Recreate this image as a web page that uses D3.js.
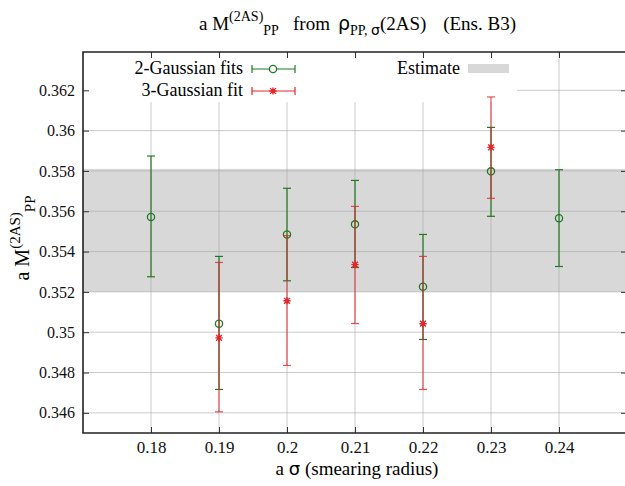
<!DOCTYPE html>
<html>
<head>
<meta charset="utf-8">
<script src="https://cdn.jsdelivr.net/npm/d3@7"></script>
<style>
  body { margin: 0; background: #fff; }
  svg text { font-family: "Liberation Serif", "Times New Roman", serif; }
</style>
</head>
<body>
<svg id="chart"></svg>
<script>
// smearing radii
var sigma2 = [0.18, 0.19, 0.20, 0.21, 0.22, 0.23, 0.24]
var fit2 = [0.35572, 0.35042, 0.35485, 0.35535, 0.35226, 0.35798, 0.35565]
var fit2Lo = [0.35275, 0.34716, 0.35255, 0.35321, 0.34964, 0.35575, 0.35326]
var fit2Hi = [0.35874, 0.35376, 0.35714, 0.35753, 0.35485, 0.36016, 0.35806]

var sigma3 = [0.19, 0.20, 0.21, 0.22, 0.23]
var fit3 = [0.34972, 0.35156, 0.35335, 0.35042, 0.35917]
var fit3Lo = [0.34605, 0.34835, 0.35043, 0.34716, 0.35664]
var fit3Hi = [0.35346, 0.35479, 0.35624, 0.35376, 0.36167]

var estimate = [0.3520, 0.3581]

var xTicks = [0.18, 0.19, 0.20, 0.21, 0.22, 0.23, 0.24]
var yTicks = [0.346, 0.348, 0.35, 0.352, 0.354, 0.356, 0.358, 0.36, 0.362]

var dimensions = ({
    width: 625,
    height: 486,
    margin: { top: 52, bottom: 53, left: 83, right: -2 }
})
var green = "#1e7a1e", red = "#e3262b"
var serif = "Liberation Serif", greek = "DejaVu Sans"

var svg = d3.select("#chart")
            .attr("width", dimensions.width)
            .attr("height", dimensions.height)

var x0 = dimensions.margin.left, x1 = dimensions.width - dimensions.margin.right
var y0 = dimensions.height - dimensions.margin.bottom, y1 = dimensions.margin.top

var xScale = d3.scaleLinear().domain([0.17, 0.25]).range([x0, x1])
var yScale = d3.scaleLinear().domain([0.345, 0.3639]).range([y0, y1])

// estimate band
svg.append("rect")
   .attr("x", x0).attr("width", x1 - x0)
   .attr("y", yScale(estimate[1]))
   .attr("height", yScale(estimate[0]) - yScale(estimate[1]))
   .attr("fill", "#d8d8d8")

// grid
svg.append("g").selectAll("line").data(yTicks).enter().append("line")
   .attr("x1", x0).attr("x2", x1)
   .attr("y1", d => yScale(d)).attr("y2", d => yScale(d))
   .attr("stroke", "#a8a8a8").attr("stroke-opacity", 0.6)
svg.append("g").selectAll("line").data(xTicks).enter().append("line")
   .attr("x1", d => xScale(d)).attr("x2", d => xScale(d))
   .attr("y1", y0).attr("y2", y1)
   .attr("stroke", "#a8a8a8").attr("stroke-opacity", 0.6)

// opaque key box
svg.append("rect").attr("x", x0 + 1).attr("y", y1 + 1).attr("width", 433).attr("height", 49).attr("fill", "#fff")

function errorBars(g, xs, ys, lo, hi, color, op) {
    var sel = g.selectAll("g.bar").data(xs).enter().append("g")
               .attr("stroke", color).attr("stroke-opacity", op).attr("stroke-width", 1.2)
    sel.append("line").attr("x1", d => xScale(d)).attr("x2", d => xScale(d))
       .attr("y1", (d, i) => yScale(lo[i])).attr("y2", (d, i) => yScale(hi[i]))
    sel.append("line").attr("x1", d => xScale(d) - 4).attr("x2", d => xScale(d) + 4)
       .attr("y1", (d, i) => yScale(lo[i])).attr("y2", (d, i) => yScale(lo[i]))
    sel.append("line").attr("x1", d => xScale(d) - 4).attr("x2", d => xScale(d) + 4)
       .attr("y1", (d, i) => yScale(hi[i])).attr("y2", (d, i) => yScale(hi[i]))
}
function asterisk(cx, cy, r) {
    var a = r * 0.8
    return "M" + (cx - r) + "," + cy + "h" + (2 * r) +
           "M" + cx + "," + (cy - r) + "v" + (2 * r) +
           "M" + (cx - a) + "," + (cy - a) + "l" + (2 * a) + "," + (2 * a) +
           "M" + (cx - a) + "," + (cy + a) + "l" + (2 * a) + "," + (-2 * a)
}

var g2 = svg.append("g")
errorBars(g2, sigma2, fit2, fit2Lo, fit2Hi, green, 1)
g2.selectAll("circle").data(sigma2).enter().append("circle")
  .attr("cx", d => xScale(d)).attr("cy", (d, i) => yScale(fit2[i]))
  .attr("r", 3.6).attr("fill", "none").attr("stroke", green).attr("stroke-width", 1.3)

var g3 = svg.append("g")
errorBars(g3, sigma3, fit3, fit3Lo, fit3Hi, red, 0.8)
g3.selectAll("path").data(sigma3).enter().append("path")
  .attr("d", (d, i) => asterisk(xScale(d), yScale(fit3[i]), 3.6))
  .attr("stroke", red).attr("stroke-width", 1.4).attr("fill", "none")

// key
var key = svg.append("g")
function keyText(x, y, s) {
    key.append("text").attr("x", x).attr("y", y).attr("text-anchor", "end")
       .attr("font-family", serif).attr("font-size", 18).text(s)
}
keyText(243, 74, "2-Gaussian fits")
keyText(243, 96, "3-Gaussian fit")
keyText(460, 74, "Estimate")
var ks = [[69, green], [91, red]]
ks.forEach(function (k) {
    var kg = key.append("g").attr("stroke", k[1]).attr("stroke-width", 1.2)
    kg.append("line").attr("x1", 252).attr("x2", 295).attr("y1", k[0]).attr("y2", k[0])
    kg.append("line").attr("x1", 252).attr("x2", 252).attr("y1", k[0] - 4).attr("y2", k[0] + 4)
    kg.append("line").attr("x1", 295).attr("x2", 295).attr("y1", k[0] - 4).attr("y2", k[0] + 4)
})
key.append("circle").attr("cx", 273).attr("cy", 69).attr("r", 3.6).attr("fill", "#fff").attr("stroke", green).attr("stroke-width", 1.3)
key.append("path").attr("d", asterisk(273, 91, 3.6)).attr("stroke", red).attr("stroke-width", 1.4)
key.append("rect").attr("x", 468).attr("y", 64).attr("width", 41).attr("height", 9).attr("fill", "#d8d8d8")

// axes, ticks inward, mirrored
var fmt = d3.format(".3~f")
var yAxis = d3.axisLeft(yScale).tickValues(yTicks).tickFormat(fmt).tickSize(-6).tickPadding(8)
svg.append("g").attr("transform", "translate(" + x0 + ",0)").call(yAxis)
   .attr("font-family", serif).attr("font-size", 16)
   .call(g => g.select(".domain").remove())
svg.append("g").attr("transform", "translate(" + x1 + ",0)")
   .call(d3.axisRight(yScale).tickValues(yTicks).tickSize(-6).tickFormat(""))
   .call(g => g.select(".domain").remove())

var xAxis = d3.axisBottom(xScale).tickValues(xTicks).tickFormat(fmt).tickSize(-6).tickPadding(8)
svg.append("g").attr("transform", "translate(0," + y0 + ")").call(xAxis)
   .attr("font-family", serif).attr("font-size", 17)
   .call(g => g.select(".domain").remove())
svg.append("g").attr("transform", "translate(0," + y1 + ")")
   .call(d3.axisTop(xScale).tickValues(xTicks).tickSize(-6).tickFormat(""))
   .call(g => g.select(".domain").remove())
svg.selectAll(".tick line").attr("stroke", "#333")
svg.selectAll(".tick text").attr("fill", "#111")

svg.append("path")
   .attr("d", "M" + x1 + "," + y1 + "H" + x0 + "V" + y0 + "H" + x1)
   .attr("fill", "none").attr("stroke", "#222").attr("stroke-width", 1.6)

// title, in chunks like the gnuplot enhanced text
var ty = 30
var tA = svg.append("text").attr("x", 199).attr("y", ty).attr("font-size", 19)
tA.append("tspan").text("a M")
tA.append("tspan").attr("dy", -9).attr("font-size", 14).text("(2AS)")
tA.append("tspan").attr("dy", 14).attr("font-size", 14).text("PP")
svg.append("text").attr("x", 293).attr("y", ty).attr("font-size", 19).text("from")
var tC = svg.append("text").attr("x", 338).attr("y", ty).attr("font-size", 19)
tC.append("tspan").attr("font-family", greek).text("ρ")
tC.append("tspan").attr("dy", 5).attr("font-size", 14).text("PP, ")
tC.append("tspan").attr("font-size", 14).attr("font-family", greek).text("σ")
tC.append("tspan").attr("dy", -5).text("(2AS)")
svg.append("text").attr("x", 516).attr("y", ty).attr("text-anchor", "end").attr("font-size", 19).text("(Ens. B3)")

// axis labels
var xl = svg.append("text").attr("x", 357).attr("y", 475).attr("text-anchor", "middle")
            .attr("font-family", serif).attr("font-size", 19)
xl.append("tspan").text("a ")
xl.append("tspan").attr("font-family", greek).attr("font-size", 18).text("σ")
xl.append("tspan").text(" (smearing radius)")

var yl = svg.append("text").attr("transform", "translate(29,238) rotate(-90)").attr("text-anchor", "middle")
            .attr("font-family", serif).attr("font-size", 20)
yl.append("tspan").text("a M")
yl.append("tspan").attr("dy", -9).attr("font-size", 15).text("(2AS)")
yl.append("tspan").attr("dy", 15).attr("font-size", 15).text("PP")
</script>
</body>
</html>
